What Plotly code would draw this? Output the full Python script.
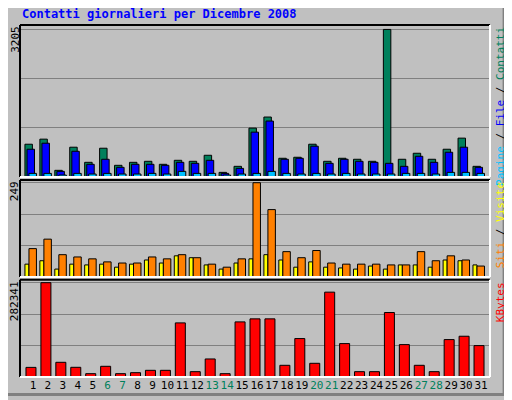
import plotly.graph_objects as go

days = list(range(1, 32))
weekend = [6, 7, 13, 14, 20, 21, 27, 28]

contatti = [713, 823, 146, 648, 320, 626, 255, 320, 342, 277, 364, 342, 473, 102, 233, 1063,
            1303, 408, 430, 713, 342, 408, 386, 342, 3205, 386, 517, 386, 604, 845, 233]
files = [604, 735, 124, 560, 277, 386, 211, 277, 277, 255, 320, 298, 364, 80, 189, 975,
         1216, 386, 408, 670, 298, 386, 342, 320, 298, 233, 451, 320, 539, 648, 211]
pagine = [80, 80, 44, 80, 66, 80, 66, 66, 80, 66, 124, 80, 80, 44, 66, 80,
          124, 80, 66, 80, 66, 80, 66, 66, 66, 80, 80, 66, 102, 102, 80]
visite = [34, 43, 21, 34, 32, 34, 26, 34, 45, 37, 56, 51, 32, 21, 37, 48,
          59, 45, 26, 40, 26, 24, 21, 29, 21, 32, 32, 26, 45, 43, 32]
siti = [75, 100, 59, 53, 48, 40, 37, 37, 53, 48, 59, 51, 34, 26, 48, 249,
        178, 67, 51, 70, 37, 34, 34, 34, 32, 32, 67, 43, 56, 45, 29]
kbytes = [28800, 282341, 44000, 29000, 10000, 32000, 10000, 13000, 20000, 20000, 162000, 16000,
          54000, 10000, 165000, 174000, 174000, 35000, 115000, 41000, 254000, 100000, 16000,
          16000, 193000, 97000, 35000, 16000, 112000, 122000, 94000]

max_top = 3205
max_mid = 249
max_bot = 282341

line = dict(color="black", width=1)
fig = go.Figure()


def bar(y, color, offset, width, axis):
    fig.add_trace(go.Bar(x=days, y=y, marker=dict(color=color, line=line),
                         offset=offset, width=width, xaxis="x", yaxis=axis,
                         showlegend=False, hoverinfo="y"))


bar(contatti, "#00805C", -0.54, 0.5, "y")
bar(files, "#0000FF", -0.40, 0.5, "y")
bar(pagine, "#00C0FF", -0.27, 0.5, "y")
bar(visite, "#FFFF00", -0.54, 0.27, "y2")
bar(siti, "#FF8000", -0.27, 0.5, "y2")
bar(kbytes, "#FF0000", -0.47, 0.67, "y3")

ticktext = [f"<span style='color:#00805C'>{d}</span>" if d in weekend else str(d) for d in days]

def yax(domain, top):
    return dict(domain=domain, range=[0, top * 1.03], dtick=top / 3, showticklabels=False,
                gridcolor="#808080", gridwidth=1, zeroline=False, showline=False)

# the page body has an 8px margin, so the figure is 8px smaller and margins shifted
fig.update_layout(
    width=504, height=392, barmode="overlay",
    margin=dict(l=12, r=22, t=17, b=23),
    paper_bgcolor="#C0C0C0", plot_bgcolor="#C0C0C0",
    font=dict(family="DejaVu Sans Mono", size=11, color="black"),
    xaxis=dict(range=[0.13, 31.6], tickvals=days, ticktext=ticktext, showgrid=False,
               zeroline=False, ticks="", tickfont=dict(size=11), anchor="y3",
               automargin=False, tickangle=0),
    yaxis=yax([0.568, 1], max_top),
    yaxis2=yax([0.284, 0.560], max_mid),
    yaxis3=yax([0, 0.276], max_bot),
)

# panel frames
for y0, y1 in [(0.568, 1), (0.284, 0.560), (0, 0.276)]:
    fig.add_shape(type="line", xref="paper", yref="paper", x0=0, x1=1, y0=y1, y1=y1,
                  line=dict(color="black", width=2))
    fig.add_shape(type="line", xref="paper", yref="paper", x0=0, x1=0, y0=y0, y1=y1,
                  line=dict(color="black", width=2))
    fig.add_shape(type="line", xref="paper", yref="paper", x0=0, x1=1, y0=y0, y1=y0,
                  line=dict(color="white", width=2))
    fig.add_shape(type="line", xref="paper", yref="paper", x0=1, x1=1, y0=y0, y1=y1,
                  line=dict(color="white", width=2))

# outer bevel
fig.add_shape(type="rect", xref="paper", yref="paper", x0=-0.040, x1=1.03, y0=-0.05, y1=1.06,
              line=dict(color="#808080", width=3), layer="below")

fig.add_annotation(text="<b>Contatti giornalieri per Dicembre 2008</b>", xref="paper", yref="paper",
                   x=0, y=1.03, xanchor="left", yanchor="middle", showarrow=False,
                   font=dict(color="#0000FF", size=12))

for y, txt in [(1, "3205"), (0.560, "249"), (0.276, "282341")]:
    fig.add_annotation(text=txt, xref="paper", yref="paper", x=-0.026, y=y, xanchor="left",
                       yanchor="top", textangle=-90, showarrow=False, font=dict(size=11),
                       borderpad=0)

right = [
    (1, "<span style='color:#00C0FF'>Pagine</span> / <span style='color:#0000FF'>File</span> / "
        "<span style='color:#00805C'>Contatti</span>"),
    (0.560, "<span style='color:#FF8000'>Siti</span> / <span style='color:#FFFF00'>Visite</span>"),
    (0.276, "<span style='color:#FF0000'>KBytes</span>"),
]
for y, txt in right:
    fig.add_annotation(text=txt, xref="paper", yref="paper", x=1.004, y=y, xanchor="left",
                       yanchor="top", textangle=-90, showarrow=False, font=dict(size=11))

fig.write_html("out.html")
